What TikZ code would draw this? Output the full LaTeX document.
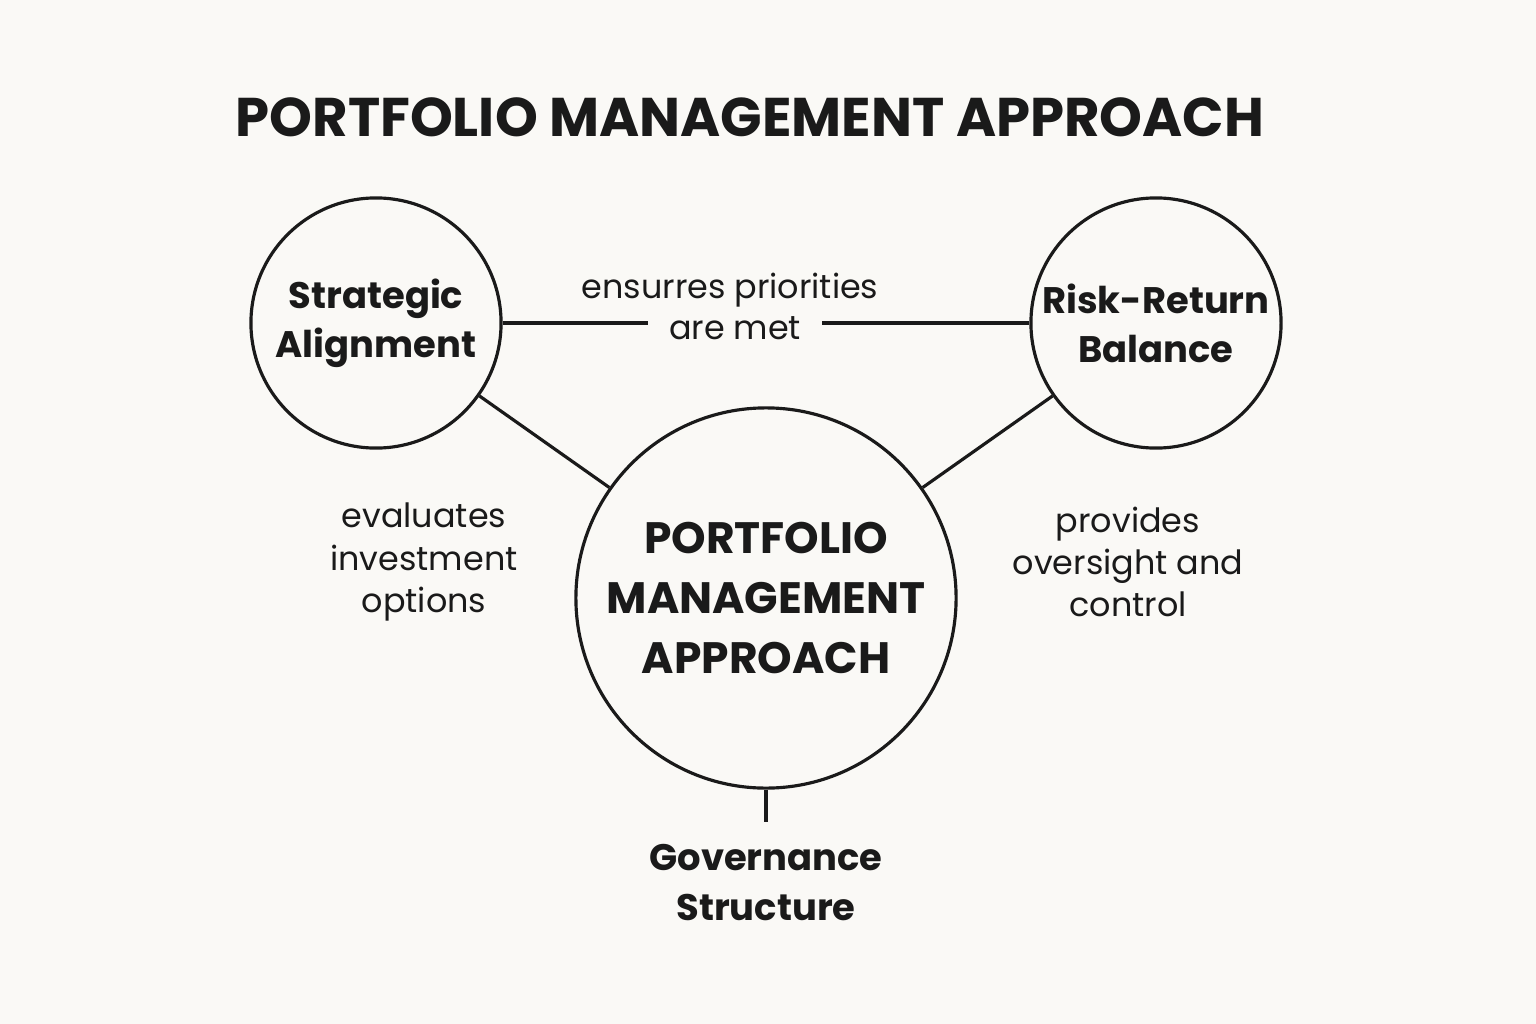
\documentclass[tikz,border=0pt]{standalone}
\usepackage{fontspec}
\setmainfont{Poppins}
\usetikzlibrary{positioning}
\definecolor{paper}{HTML}{FAF9F6}
\definecolor{ink}{HTML}{1A1A1A}
\begin{document}
\begin{tikzpicture} [x=0.01cm, y=-0.01cm, line width=0.9pt, draw=ink, text=ink,
    main/.style = {draw, circle, align=center, font=\fontsize{10.5}{14}\selectfont\bfseries, inner sep=0pt},
    hub/.style = {draw, circle, align=center, font=\fontsize{12.5}{17}\selectfont\bfseries, inner sep=0pt},
    label/.style = {align=center, font=\fontsize{10.5}{14}\selectfont\bfseries, inner sep=2pt},
    note/.style = {align=center, font=\fontsize{9.5}{12}\selectfont}]
            \fill[paper] (0,0) rectangle (1536,1024);
            \useasboundingbox (0,0) rectangle (1536,1024);
            \node[font=\fontsize{15.5}{20}\selectfont\bfseries] (title) at (750,117) {PORTFOLIO MANAGEMENT APPROACH};
			\node[main, minimum size=2.5cm] (SA) at (376,323) {Strategic\\Alignment};
			\node[main, minimum size=2.5cm] (RR) at (1156,323) {Risk-Return\\Balance};
			\node[hub, minimum size=3.8cm] (P) at (766,598) {PORTFOLIO\\MANAGEMENT\\APPROACH};
			\coordinate (G) at (766,822);
			\node[label, below=4pt of G] (GS) {Governance\\Structure};
			\draw (SA) -- (RR);
			\foreach \i in {SA, RR} {
					\draw (\i) -- (P);
				}
			\draw (P) -- (G);
			\node[note, fill=paper, inner xsep=6pt] (met) at (735,328) {are met};
			\node[note] (ens) at (730,290) {ensurres priorities};
			\node[note] (eval) at (424,562) {evaluates\\investment\\options};
			\node[note] (over) at (1128,562) {provides\\oversight and\\control};
		\end{tikzpicture}
\end{document}
